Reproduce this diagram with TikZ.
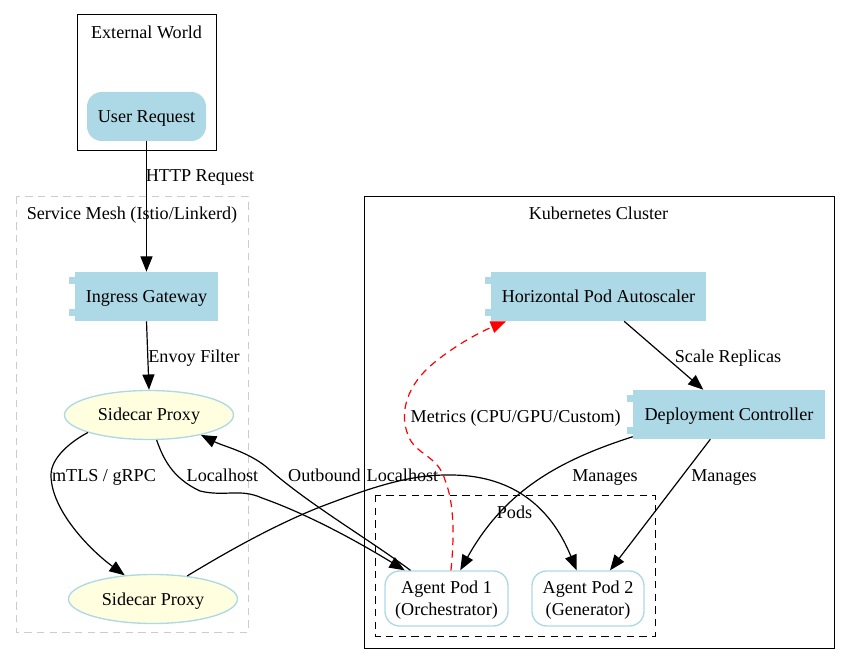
\documentclass[tikz,border=0pt]{standalone}
\usepackage{fontspec}
\setmainfont{Liberation Serif}
\usetikzlibrary{arrows.meta,shapes.geometric}
\definecolor{lightblue}{HTML}{ADD8E6}
\definecolor{lightyellow}{HTML}{FFFFE0}
\definecolor{meshgray}{HTML}{CCCCCC}

\tikzset{
	every node/.style={font=\fontsize{13.6}{16.5}\selectfont,align=center},
	oneline/.style={text height=11.5pt,text depth=2.5pt},
	box/.style={rectangle,draw=#1,line width=0.75pt},
	comp/.style={rectangle,oneline,fill=lightblue,minimum height=36.75pt,inner sep=0pt},
	proxy/.style={ellipse,oneline,draw=lightblue,line width=1pt,fill=lightyellow,minimum width=126.75pt,minimum height=36.75pt,inner sep=0pt},
	pod/.style={rectangle,rounded corners=11pt,draw=lightblue,line width=1pt,text depth=-2.5pt,minimum height=41.25pt,inner sep=0pt},
	txt/.style={text height=13pt,text depth=2.5pt,inner sep=0pt},
	edge/.style={->,line width=0.9pt},
	metric/.style={->,line width=0.9pt,red,dash pattern=on 5.5pt off 4pt},
}

\begin{document}
\begin{tikzpicture}[x=0.75pt,y=-0.75pt,>={Triangle[length=11.5pt,width=9pt]}]
	\useasboundingbox (0,0) rectangle (851,663);
	% clusters
	\draw[box=black] (77,15) rectangle (216,151);
	\draw[box=meshgray,dash pattern=on 5.5pt off 4pt] (16,197) rectangle (248,632);
	\draw[box=black] (364,197) rectangle (834,648);
	\draw[box=black,dash pattern=on 5.5pt off 4pt] (375,495) rectangle (655,636);
	% nodes
	\node[rectangle,oneline,rounded corners=11pt,fill=lightblue,minimum width=89.25pt,minimum height=36.75pt,inner sep=0pt] (user) at (146.5,116.5) {User Request};
	\node[comp,minimum width=107.25pt] (ingress) at (146.5,296.5) {Ingress Gateway};
	\node[comp,minimum width=161.25pt] (hpa) at (598.5,296.5) {Horizontal Pod Autoscaler};
	\node[comp,minimum width=144pt] (deploy) at (729,414.5) {Deployment Controller};
	\node[proxy] (sidecarA) at (149,415) {Sidecar Proxy};
	\node[proxy] (sidecarB) at (153,599) {Sidecar Proxy};
	\node[pod,minimum width=92.25pt] (podA) at (446.5,598.5) {Agent Pod 1\\(Orchestrator)};
	\node[pod,minimum width=84pt] (podB) at (588,598.5) {Agent Pod 2\\(Generator)};
	\foreach \c in {ingress,hpa,deploy} {
		\fill[lightblue] ([xshift=-4.2pt,yshift=-3.75pt]\c.north west) rectangle ([yshift=-9pt]\c.north west);
		\fill[lightblue] ([xshift=-4.2pt,yshift=3.75pt]\c.south west) rectangle ([yshift=9pt]\c.south west);
	};
	% edges
	\draw[edge] (user.south) -- (ingress.north);
	\draw[edge] (ingress.south) -- (sidecarA.north);
	\draw[edge] (sidecarA.196) .. controls (70,442) and (51,458) .. (51,475)
		.. controls (51,510) and (90,550) .. (sidecarB.140);
	\draw[edge] (sidecarA.-73) .. controls (163,458) and (172,478) .. (200,491)
		.. controls (225,497) and (240,488) .. (262,498)
		.. controls (310,515) and (360,543) .. (podA.146);
	\draw[edge] (podA.142) .. controls (370,540) and (310,505) .. (270,470)
		.. controls (250,452) and (225,447) .. (sidecarA.-21);
	\draw[edge] (sidecarB.34) .. controls (230,550) and (275,525) .. (320,507)
		.. controls (365,490) and (405,475) .. (447,475)
		.. controls (510,474) and (550,505) .. (podB.112);
	\draw[edge] (hpa.-44) -- (deploy.136.7);
	\draw[edge] (deploy.193.9) .. controls (560,460) and (505,490) .. (podA.64);
	\draw[edge] (deploy.233.7) -- (podB.52.6);
	\draw[metric] (podA.81) .. controls (454,540) and (455,505) .. (445,480)
		.. controls (438,455) and (415,455) .. (408,435)
		.. controls (400,415) and (405,390) .. (428,368)
		.. controls (450,348) and (480,332) .. (hpa.195.5);
	% labels
	\foreach \n/\x/\y/\l in {
			lblworld/146.5/32/External World,
			lblmesh/132/213/{Service Mesh (Istio/Linkerd)},
			lblkube/598.5/213/Kubernetes Cluster,
			lblpods/514.5/511/Pods,
			lblhttp/200/175/HTTP Request,
			lblenvoy/194/356/Envoy Filter,
			lblmtls/104/474/{mTLS / gRPC},
			lblhostA/222.5/474/Localhost,
			lblout/324.5/474/Outbound,
			lblhostB/402.5/474/Localhost,
			lblmanA/605/474/Manages,
			lblmanB/724/474/Manages,
			lblscale/728/356/Scale Replicas,
			lblmetric/518/415/{Metrics (CPU/GPU/Custom)}
			} {
		\node[txt] (\n) at (\x,\y) {\l};
	};
\end{tikzpicture}
\end{document}
